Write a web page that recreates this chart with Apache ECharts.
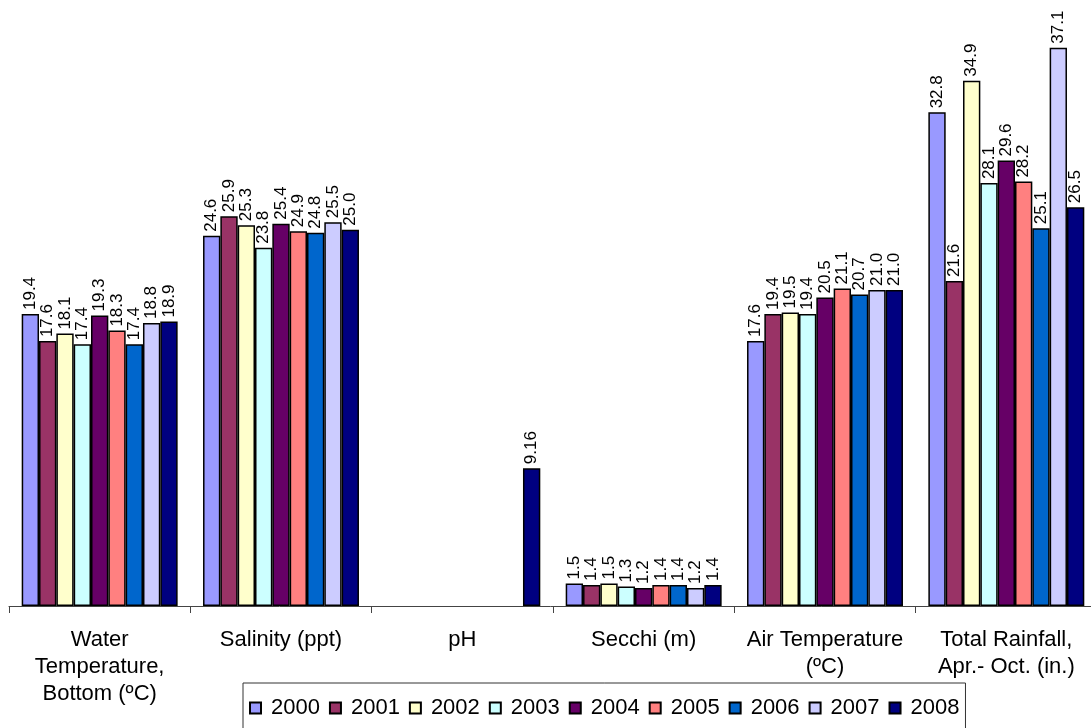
<!DOCTYPE html>
<html><head><meta charset="utf-8">
<script src="https://cdn.jsdelivr.net/npm/echarts@6/dist/echarts.min.js"></script>
<style>html,body{margin:0;padding:0;background:#fff}#c{width:1091px;height:728px}</style>
</head><body><div id="c"></div>
<script>
const categories = ['Water\nTemperature,\nBottom (ºC)', 'Salinity (ppt)', 'pH', 'Secchi (m)', 'Air Temperature\n(ºC)', 'Total Rainfall,\nApr.- Oct. (in.)'];
const years = ['2000','2001','2002','2003','2004','2005','2006','2007','2008'];
const colors = ['#9999FF','#993366','#FFFFCC','#CCFFFF','#660066','#FF8080','#0066CC','#CCCCFF','#000080'];
const v2000 = [19.4, 24.6, null, 1.5, 17.6, 32.8];
const v2001 = [17.6, 25.9, null, 1.4, 19.4, 21.6];
const v2002 = [18.1, 25.3, null, 1.5, 19.5, 34.9];
const v2003 = [17.4, 23.8, null, 1.3, 19.4, 28.1];
const v2004 = [19.3, 25.4, null, 1.2, 20.5, 29.6];
const v2005 = [18.3, 24.9, null, 1.4, 21.1, 28.2];
const v2006 = [17.4, 24.8, null, 1.4, 20.7, 25.1];
const v2007 = [18.8, 25.5, null, 1.2, 21.0, 37.1];
const v2008 = [18.9, 25.0, 9.16, 1.4, 21.0, 26.5];
const values = [v2000, v2001, v2002, v2003, v2004, v2005, v2006, v2007, v2008];

const FONT = '"Liberation Sans", Arial, sans-serif';
function fmt(p) {
  const v = p.value;
  if (v == null) return '';
  return Math.abs(v * 10 - Math.round(v * 10)) < 1e-6 ? v.toFixed(1) : String(v);
}
const chart = echarts.init(document.getElementById('c'), null, {renderer: 'canvas'});
chart.setOption({
  animation: false,
  backgroundColor: '#fff',
  grid: {left: 9, top: 4, width: 1088, height: 602, containLabel: false, outerBoundsMode: 'none'},
  xAxis: {
    type: 'category', data: categories,
    axisLine: {show: true, lineStyle: {color: '#444', width: 1}},
    axisTick: {show: true, alignWithLabel: false, length: 7, lineStyle: {color: '#444'}},
    axisLabel: {interval: 0, margin: 20, color: '#000', fontFamily: FONT, fontSize: 22, lineHeight: 27}
  },
  yAxis: {type: 'value', min: 0, max: 40, show: false},
  legend: {
    data: years, left: 243, top: 683,
    padding: [14, 6, 24, 6],
    borderColor: '#333', borderWidth: 1,
    itemWidth: 11, itemHeight: 11, itemGap: 9,
    icon: 'rect',
    textStyle: {color: '#000', fontFamily: FONT, fontSize: 22, padding: [0, 0, 0, 5]}
  },
  series: years.map((y, i) => ({
    name: y, type: 'bar', data: values[i],
    barGap: '0%', barCategoryGap: '14%',
    itemStyle: {color: colors[i], borderColor: '#000', borderWidth: 1.5},
    label: {
      show: true, position: 'top', rotate: 90, distance: 4,
      align: 'left', verticalAlign: 'middle',
      color: '#000', fontFamily: FONT, fontSize: 17, formatter: fmt
    }
  }))
});
</script></body></html>
